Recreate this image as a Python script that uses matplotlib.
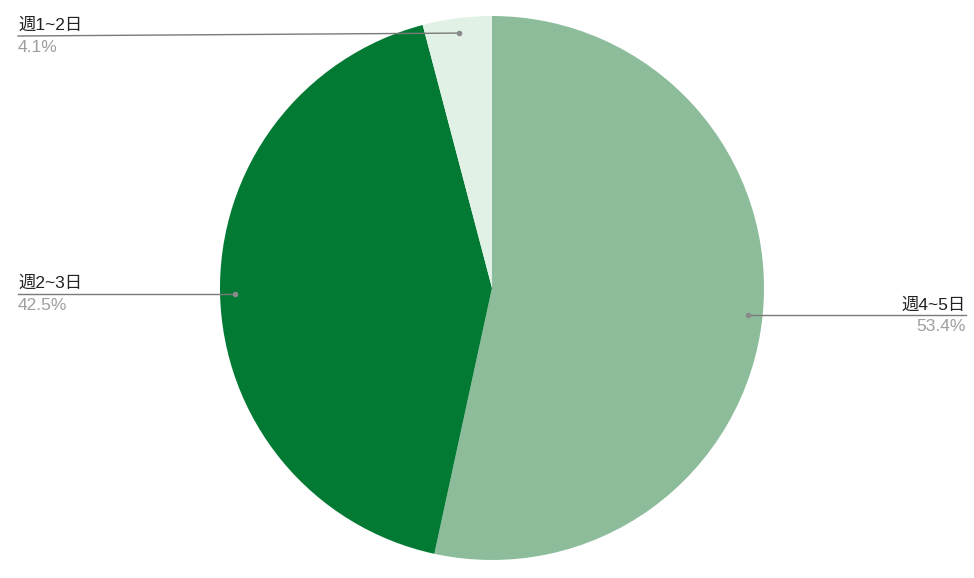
import numpy as np
import matplotlib
matplotlib.use("Agg")
import matplotlib.pyplot as plt

plt.rcParams['font.family'] = ['Liberation Sans', 'Noto Sans CJK JP', 'DejaVu Sans']

labels = ["週4~5日", "週2~3日", "週1~2日"]
values = [53.4, 42.5, 4.1]
colors = ["#8dbc9b", "#037a34", "#e1f1e6"]

W, H = 974, 578
cx, cy, R = 492, H - 288, 272

fig = plt.figure(figsize=(W / 100, H / 100), dpi=100)
ax = fig.add_axes([0, 0, 1, 1])
ax.set_xlim(0, W)
ax.set_ylim(0, H)
ax.set_aspect("equal")
ax.axis("off")

wedges, _ = ax.pie(values, colors=colors, startangle=90, counterclock=False,
                   center=(cx, cy), radius=R, wedgeprops=dict(linewidth=0))
ax.set_xlim(0, W)
ax.set_ylim(0, H)

for w, lab, v in zip(wedges, labels, values):
    mid = np.deg2rad((w.theta1 + w.theta2) / 2)
    px = cx + 0.945 * R * np.cos(mid)
    py = cy + 0.945 * R * np.sin(mid)
    ly = min(py, H - 36)  # 위쪽 여백 안으로
    if np.cos(mid) < 0:
        tx, ha = 18, "left"
    else:
        tx, ha = 966, "right"
    ax.plot([px, tx], [py, ly], color="#7a7a7a", lw=1)
    ax.plot(px, py, "o", color="#8a8a8a", ms=3)
    ax.text(tx, ly + 3, lab, ha=ha, va="bottom", fontsize=12.5, color="#222222")
    ax.text(tx, ly - 4, f"{v:.1f}%", ha=ha, va="top", fontsize=12.5, color="#9e9e9e")

fig.savefig("out.png", dpi=100)
